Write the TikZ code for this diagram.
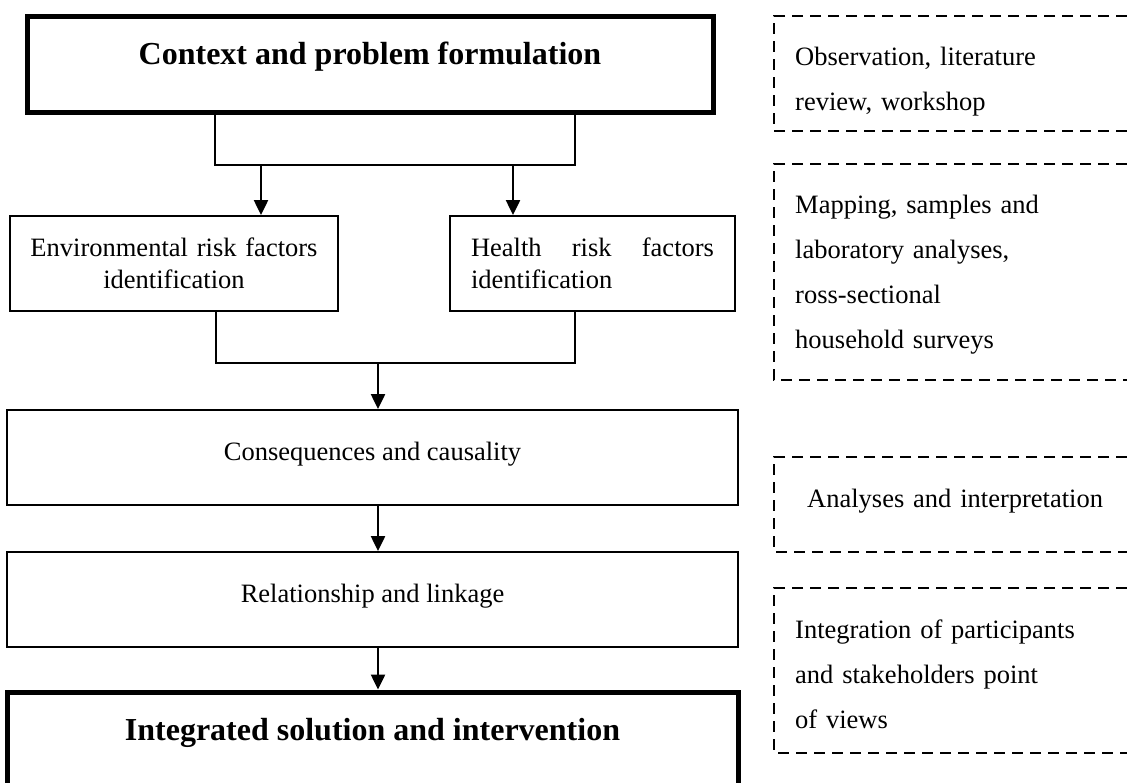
\documentclass[tikz,border=0pt]{standalone}
\usepackage{fontspec}
\setmainfont{Liberation Serif}
\usetikzlibrary{arrows.meta}

\begin{document}
\begin{tikzpicture}[x=1pt, y=-1pt,
  flowbox/.style={rectangle, draw, line width=2pt, minimum height=95pt, inner sep=0pt, font=\fontsize{26.5}{32}\selectfont},
  flowline/.style={flowbox, minimum width=731pt, text height=18pt, text depth=12.5pt},
  mainbox/.style={rectangle, draw, line width=5pt, minimum height=96pt, inner sep=0pt, text height=22pt, text depth=21pt, font=\fontsize{32}{38}\selectfont\bfseries},
  link/.style={line width=2.7pt},
  flow/.style={line width=2.5pt, -{Triangle[length=15pt, width=14pt]}},
  note/.style={line width=2pt, dash pattern=on 11pt off 7pt},
  notetext/.style={inner sep=0pt, anchor=base west, text width=330pt, align=left, font=\fontsize{26.5}{45}\selectfont}]

\useasboundingbox (0,0) rectangle (1127,782);

% main chain
\node [mainbox, minimum width=686pt] (context) at (370,64) {Context and problem formulation};
\node [flowbox, minimum width=328pt, text width=310pt, align=center] (env) at (174,263.5) {Environmental risk factors\\identification};
\node [flowbox, minimum width=285pt, text width=243pt, align=left] (health) at (592.5,263.5) {Health\hfill risk\hfill factors\\identification};
\node [flowline] (cons) at (372.5,457.5) {Consequences and causality};
\node [flowline] (rel) at (372.5,599.5) {Relationship and linkage};
\node [mainbox, minimum width=731pt] (solution) at (372.5,740) {Integrated solution and intervention};

% fork and join points
\coordinate (forkL) at (215,165);
\coordinate (forkR) at (575,165);
\coordinate (splitL) at (261,165);
\coordinate (splitR) at (513,165);
\coordinate (joinL) at (216,363);
\coordinate (joinR) at (575,363);
\coordinate (join) at (378,363);

\draw [link] (context.south -| forkL) |- (forkR) -- (context.south -| forkR);
\draw [flow] (splitL) -- (splitL |- env.north);
\draw [flow] (splitR) -- (splitR |- health.north);
\draw [link] (env.south -| joinL) |- (joinR) -- (health.south -| joinR);
\draw [flow] (join) -- (join |- cons.north);
\draw [flow] (cons.south -| join) -- (rel.north -| join);
\draw [flow] (rel.south -| join) -- (solution.north -| join);

% methods on the right
\draw [note] (1127,16) -| (774,131) -- (1127,131);
\draw [note] (1127,164) -| (774,380) -- (1127,380);
\draw [note] (1127,457) -| (774,552) -- (1127,552);
\draw [note] (1127,588) -| (774,753) -- (1127,753);

\node [notetext] (observe) at (795,65) {Observation, literature\\review, workshop};
\node [notetext] (mapping) at (795,213) {Mapping, samples and\\laboratory analyses,\\ross-sectional\\household surveys};
\node [notetext] (analyses) at (807,507) {Analyses and interpretation};
\node [notetext] (integrate) at (795,638) {Integration of participants\\and stakeholders point\\of views};
\end{tikzpicture}
\end{document}
